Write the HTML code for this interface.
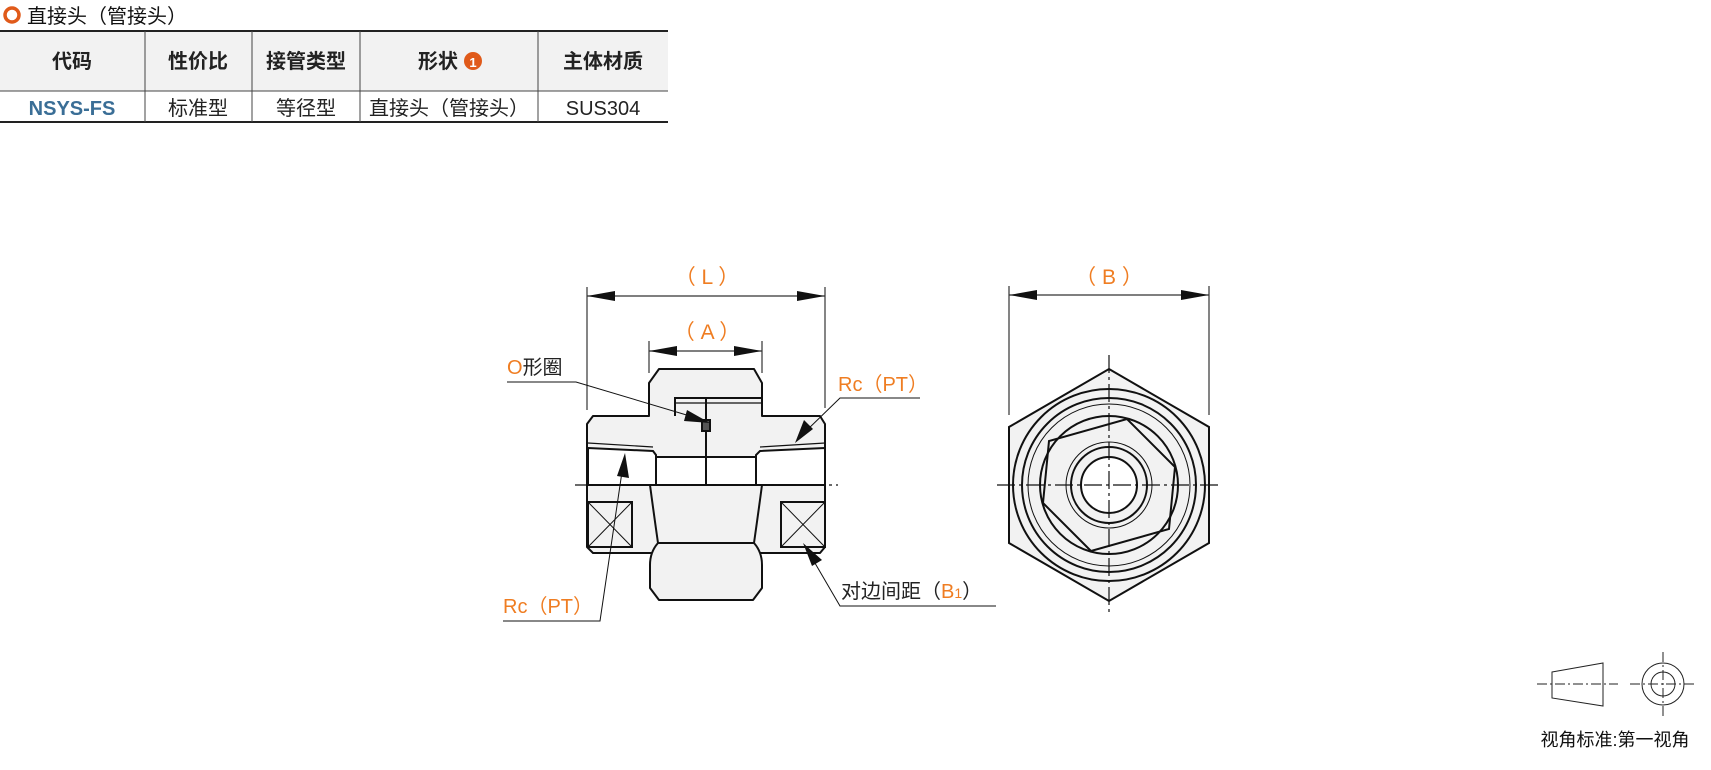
<!DOCTYPE html>
<html><head><meta charset="utf-8"><style>
body{margin:0;width:1711px;height:770px;background:#fff;overflow:hidden;font-family:"Liberation Sans","Noto Sans CJK SC",sans-serif;}
svg{position:absolute;left:0;top:0}
</style></head><body>
<svg width="1711" height="770" viewBox="0 0 1711 770" font-family="Liberation Sans, Noto Sans CJK SC, sans-serif">
<!-- title -->
<circle cx="12" cy="15" r="7" fill="none" stroke="#e05a1a" stroke-width="3.5"/>
<text x="27" y="23" font-size="20" fill="#111">直接头（管接头）</text>
<!-- table -->
<rect x="0" y="31" width="668" height="60" fill="#f2f2f2"/>
<line x1="0" y1="31" x2="668" y2="31" stroke="#222" stroke-width="2"/>
<line x1="0" y1="91" x2="668" y2="91" stroke="#444" stroke-width="1"/>
<line x1="0" y1="122" x2="668" y2="122" stroke="#222" stroke-width="2"/>
<g stroke="#444" stroke-width="1">
<line x1="145" y1="31" x2="145" y2="122"/><line x1="252" y1="31" x2="252" y2="122"/>
<line x1="360" y1="31" x2="360" y2="122"/><line x1="538" y1="31" x2="538" y2="122"/>
</g>
<g font-size="20" font-weight="bold" fill="#222" text-anchor="middle">
<text x="72" y="68">代码</text><text x="198" y="68">性价比</text><text x="306" y="68">接管类型</text>
<text x="438" y="68">形状</text><text x="603" y="68">主体材质</text>
</g>
<circle cx="473" cy="61" r="9" fill="#e05a1a"/><text x="473" y="67" font-size="13" font-weight="bold" fill="#fff" text-anchor="middle">1</text>
<g font-size="20" fill="#222" text-anchor="middle">
<text x="72" y="115" font-weight="bold" fill="#3a6e96">NSYS-FS</text><text x="198" y="115">标准型</text>
<text x="306" y="115">等径型</text><text x="449" y="115">直接头（管接头）</text><text x="603" y="115">SUS304</text>
</g>
<!-- side view -->
<g stroke="#111" stroke-width="2" fill="#f2f2f2" stroke-linejoin="round">
<path d="M593,416 L649,416 L649,383 L659,369 L754,369 L762,383 L762,416 L820,416 L825,424 L825,547 L820,553 L593,553 L587,547 L587,424 Z"/>
<path d="M650,485 Q654,515 658,543 Q650,552 650,565 L650,588 L659,600 L753,600 L762,588 L762,565 Q762,552 754,543 Q758,515 762,485 Z"/>
<line x1="658" y1="543" x2="754" y2="543"/>
</g>
<g fill="#fff" stroke="#111" stroke-width="2">
<path d="M588,448 L653,451 L656,455 L656,485 L588,485 Z"/>
<path d="M656,457 L756,457 L756,485 L656,485 Z"/>
<path d="M825,448 L760,451 L756,455 L756,485 L825,485 Z"/>
</g>
<g stroke="#111" stroke-width="1.2" fill="none">
<line x1="588" y1="443" x2="653" y2="447"/><line x1="825" y1="443" x2="760" y2="447"/>
<line x1="675" y1="403" x2="762" y2="403"/>
</g>
<g stroke="#111" stroke-width="2" fill="none">
<polyline points="675,416 675,398 762,398"/>
<line x1="706" y1="398" x2="706" y2="485"/>
<rect x="702" y="420" width="8" height="11" fill="#555"/>
<rect x="588" y="502" width="44" height="45"/><rect x="781" y="502" width="44" height="45"/>
</g>
<g stroke="#111" stroke-width="1">
<line x1="588" y1="502" x2="632" y2="547"/><line x1="632" y1="502" x2="588" y2="547"/>
<line x1="781" y1="502" x2="825" y2="547"/><line x1="825" y1="502" x2="781" y2="547"/>
</g>
<line x1="575" y1="485" x2="838" y2="485" stroke="#111" stroke-width="1.2" stroke-dasharray="18,4,3,4"/>
<!-- dims -->
<g stroke="#333" stroke-width="1.2">
<line x1="587" y1="287" x2="587" y2="410"/><line x1="825" y1="287" x2="825" y2="408"/>
<line x1="587" y1="296" x2="825" y2="296"/>
<line x1="649" y1="341" x2="649" y2="373"/><line x1="762" y1="341" x2="762" y2="373"/>
<line x1="649" y1="351" x2="762" y2="351"/>
<line x1="1009" y1="286" x2="1009" y2="415"/><line x1="1209" y1="286" x2="1209" y2="415"/>
<line x1="1009" y1="295" x2="1209" y2="295"/>
</g>
<g fill="#111">
<polygon points="587,296 615,291 615,301"/><polygon points="825,296 797,291 797,301"/>
<polygon points="649,351 677,346 677,356"/><polygon points="762,351 734,346 734,356"/>
<polygon points="1009,295 1037,290 1037,300"/><polygon points="1209,295 1181,290 1181,300"/>
</g>
<g font-size="21" fill="#ef7d22" text-anchor="middle">
<text x="707" y="284">（ L ）</text><text x="707" y="339">（ A ）</text><text x="1109" y="284">（ B ）</text>
</g>
<!-- leaders -->
<g stroke="#111" stroke-width="1" fill="none">
<polyline points="507,382 576,382 700,419"/>
<polyline points="920,398 840,398 805,432"/>
<polyline points="503,621 600,621 623,465"/>
<polyline points="996,606 840,606 812,558"/>
</g>
<g fill="#111">
<polygon points="710,423 684,421 687,410"/>
<polygon points="795,443 804,420 813,429"/>
<polygon points="625,453 629,478 617,476"/>
<polygon points="803,543 822,560 812,566"/>
</g>
<text x="507" y="374" font-size="20" fill="#222"><tspan fill="#ef7d22">O</tspan>形圈</text>
<text x="838" y="391" font-size="20" fill="#ef7d22">Rc（PT）</text>
<text x="503" y="613" font-size="20" fill="#ef7d22">Rc（PT）</text>
<text x="841" y="598" font-size="20" fill="#222">对边间距（<tspan fill="#ef7d22">B<tspan font-size="14">1</tspan></tspan>）</text>
<!-- hex view -->
<polygon points="1109,369 1209,427 1209,543 1109,601 1009,543 1009,427" fill="#f2f2f2" stroke="#111" stroke-width="2"/>
<g fill="none" stroke="#111">
<circle cx="1109" cy="485" r="96" stroke-width="2"/>
<circle cx="1109" cy="485" r="87" stroke-width="2"/>
<circle cx="1109" cy="485" r="81" stroke-width="1"/>
<circle cx="1109" cy="485" r="69" stroke-width="2"/>
<polygon points="1091,551 1043,503 1049,441 1127,419 1175,467 1169,529" stroke-width="2"/>
<circle cx="1109" cy="485" r="43" stroke-width="1"/>
<circle cx="1109" cy="485" r="38" stroke-width="2"/>
<circle cx="1109" cy="485" r="28" stroke-width="2" fill="#fff"/>
</g>
<g stroke="#111" stroke-width="1.2" stroke-dasharray="18,4,3,4">
<line x1="997" y1="485" x2="1222" y2="485"/><line x1="1109" y1="355" x2="1109" y2="615"/>
</g>
<!-- projection symbol -->
<g stroke="#222" stroke-width="1" fill="none">
<polygon points="1552,672 1603,663 1603,706 1552,698"/>
<line x1="1537" y1="684" x2="1618" y2="684" stroke-dasharray="10,3,2,3"/>
<circle cx="1663" cy="684" r="21"/><circle cx="1663" cy="684" r="12"/>
<line x1="1630" y1="684" x2="1697" y2="684" stroke-dasharray="10,3,2,3"/>
<line x1="1663" y1="652" x2="1663" y2="717" stroke-dasharray="10,3,2,3"/>
</g>
<text x="1615" y="746" font-size="18" fill="#111" text-anchor="middle">视角标准:第一视角</text>
</svg>
</body></html>
